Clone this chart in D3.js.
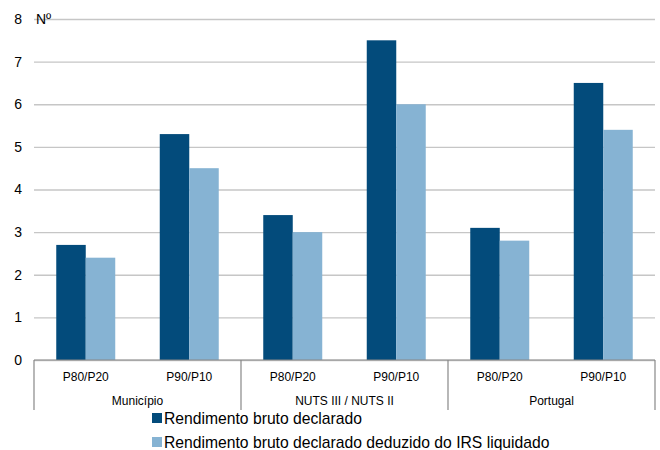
<!DOCTYPE html>
<html>
<head>
<meta charset="utf-8">
<script src="https://cdn.jsdelivr.net/npm/d3@7"></script>
<style>
  body { margin: 0; background: #fff; }
  text { font-family: "Liberation Sans", Arial, sans-serif; fill: #000; }
</style>
</head>
<body>
<svg id="chart" width="660" height="450"></svg>
<script>
// data
const groups = ["Município", "NUTS III / NUTS II", "Portugal"];
const ratios = ["P80/P20", "P90/P10"];
const seriesNames = ["Rendimento bruto declarado", "Rendimento bruto declarado deduzido do IRS liquidado"];
const bruto = [2.7, 5.3, 3.4, 7.5, 3.1, 6.5];
const deduzido = [2.4, 4.5, 3.0, 6.0, 2.8, 5.4];
const yTicks = [0, 1, 2, 3, 4, 5, 6, 7, 8];
const colors = ["#034b7b", "#86b3d3"];

let svg = d3.select("#chart");
let margin = { top: 19, right: 5, bottom: 90, left: 34 };
let width = 660 - margin.left - margin.right;
let height = 450 - margin.top - margin.bottom;

let g = svg.append("g").attr("transform", "translate(" + margin.left + "," + margin.top + ")");

// flat list of categories, one per group/ratio pair
let cats = [];
groups.forEach(function(gr, gi) {
  ratios.forEach(function(r, ri) {
    cats.push({ key: gr + "|" + r, group: gr, ratio: r, values: [bruto[gi * 2 + ri], deduzido[gi * 2 + ri]] });
  });
});

let x = d3.scaleBand().domain(cats.map(d => d.key)).range([0, width]).paddingInner(0.43).paddingOuter(0.215);
let xSub = d3.scaleBand().domain([0, 1]).range([0, x.bandwidth()]);
let xGroup = d3.scaleBand().domain(groups).range([0, width]);
let y = d3.scaleLinear().domain([0, 8]).range([height, 0]);

// gridlines + y labels
let yAxis = d3.axisLeft(y).tickValues(yTicks).tickSize(-width).tickPadding(12).tickFormat(d3.format("d"));
let ya = g.append("g").call(yAxis);
ya.select(".domain").remove();
ya.selectAll(".tick line").attr("stroke", "#c6c6c6").attr("stroke-width", 1.3);
ya.selectAll(".tick text").style("font-size", "14px").attr("x", -12);

// bars
let cat = g.selectAll(".cat").data(cats).enter().append("g")
  .attr("transform", d => "translate(" + x(d.key) + ",0)");
cat.selectAll("rect").data(d => d.values).enter().append("rect")
  .attr("x", (d, i) => xSub(i))
  .attr("width", xSub.bandwidth())
  .attr("y", d => y(d))
  .attr("height", d => height - y(d))
  .attr("fill", (d, i) => colors[i]);

// category axis
let axisY = height;
g.append("line").attr("x1", 0).attr("x2", width).attr("y1", axisY).attr("y2", axisY)
  .attr("stroke", "#888").attr("stroke-width", 1.2);
let seps = groups.map(gr => xGroup(gr)).concat([width]);
g.selectAll(".sep").data(seps).enter().append("line")
  .attr("x1", d => d).attr("x2", d => d)
  .attr("y1", axisY).attr("y2", axisY + 50)
  .attr("stroke", "#888").attr("stroke-width", 1.2);

g.selectAll(".ratio").data(cats).enter().append("text")
  .attr("x", d => x(d.key) + x.bandwidth() / 2)
  .attr("y", axisY + 21)
  .attr("text-anchor", "middle")
  .style("font-size", "12px")
  .text(d => d.ratio);

g.selectAll(".grp").data(groups).enter().append("text")
  .attr("x", d => xGroup(d) + xGroup.bandwidth() / 2)
  .attr("y", axisY + 45)
  .attr("text-anchor", "middle")
  .style("font-size", "12px")
  .text(d => d);

// unit label
svg.append("text").attr("x", 36).attr("y", 24).style("font-size", "14px").text("Nº");

// legend
let legend = svg.append("g").attr("transform", "translate(152,413)");
let li = legend.selectAll("g").data(seriesNames).enter().append("g")
  .attr("transform", (d, i) => "translate(0," + i * 24 + ")");
li.append("rect").attr("width", 10).attr("height", 10).attr("fill", (d, i) => colors[i]);
li.append("text").attr("x", 12).attr("y", 11).style("font-size", "15.7px").text(d => d);
</script>
</body>
</html>
